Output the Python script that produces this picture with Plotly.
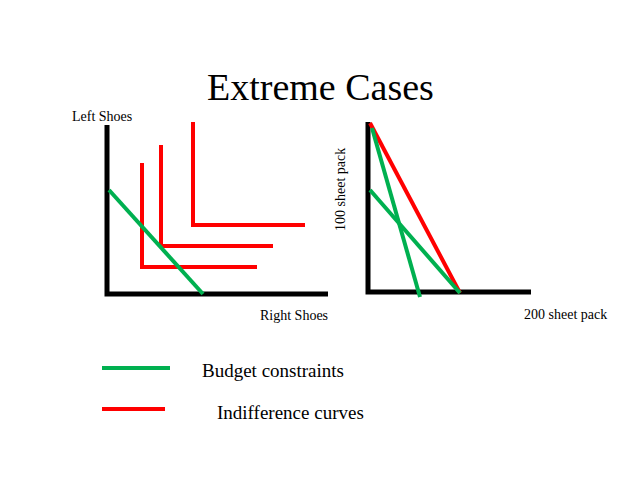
import plotly.graph_objects as go

# slide drawn in pixel-like coordinates (y grows downward)
left_axis_x = [107, 107, 328]
left_axis_y = [125, 294, 294]
right_axis_x = [368, 368, 531]
right_axis_y = [122, 292, 292]

# left panel: perfect complements (L-shaped indifference curves)
ic1_x = [142, 142, 257]
ic1_y = [163, 267, 267]
ic2_x = [161, 161, 273]
ic2_y = [145, 246, 246]
ic3_x = [193, 193, 305]
ic3_y = [122, 225, 225]
bc_left_x = [109, 203]
bc_left_y = [190, 294]

# right panel: perfect substitutes
ic_right_x = [370, 460]
ic_right_y = [123, 293]
bc_right1_x = [372, 420]
bc_right1_y = [128, 297]
bc_right2_x = [370, 460]
bc_right2_y = [190, 293]

legend_green_x = [102, 170]
legend_green_y = [368, 368]
legend_red_x = [102, 165]
legend_red_y = [409, 409]

GREEN = "#00b050"
RED = "#ff0000"

fig = go.Figure()

def seg(x, y, color, width=4):
    fig.add_trace(go.Scatter(x=x, y=y, mode="lines",
                             line=dict(color=color, width=width),
                             hoverinfo="skip", showlegend=False))

seg(left_axis_x, left_axis_y, "black", 5)
seg(right_axis_x, right_axis_y, "black", 5)
for xs, ys in [(ic1_x, ic1_y), (ic2_x, ic2_y), (ic3_x, ic3_y), (ic_right_x, ic_right_y)]:
    seg(xs, ys, RED)
for xs, ys in [(bc_left_x, bc_left_y), (bc_right1_x, bc_right1_y), (bc_right2_x, bc_right2_y)]:
    seg(xs, ys, GREEN)
seg(legend_green_x, legend_green_y, GREEN)
seg(legend_red_x, legend_red_y, RED)

font = dict(family="Liberation Serif, Times New Roman, serif", color="black", size=14)
texts = [
    ("Extreme Cases", 320, 87, 38, 0, "center"),
    ("Left Shoes", 70, 116, 14, 0, "left"),
    ("Right Shoes", 258, 315, 14, 0, "left"),
    ("200 sheet pack", 522, 314, 14, 0, "left"),
    ("100 sheet pack", 340, 190, 14, -90, "center"),
    ("Budget constraints", 200, 370, 19, 0, "left"),
    ("Indifference curves", 215, 412, 19, 0, "left"),
]
for t, x, y, s, ang, anchor in texts:
    fig.add_annotation(x=x, y=y, text=t, showarrow=False, textangle=ang,
                       xanchor=anchor, yanchor="middle",
                       font=dict(font, size=s))

# ranges shifted by the page's 8px body margin
fig.update_layout(
    width=640, height=480, margin=dict(l=0, r=0, t=0, b=0),
    plot_bgcolor="white", paper_bgcolor="white",
    xaxis=dict(range=[8, 648], visible=False, fixedrange=True),
    yaxis=dict(range=[488, 8], visible=False, fixedrange=True),
)

fig.write_html("out.html")
